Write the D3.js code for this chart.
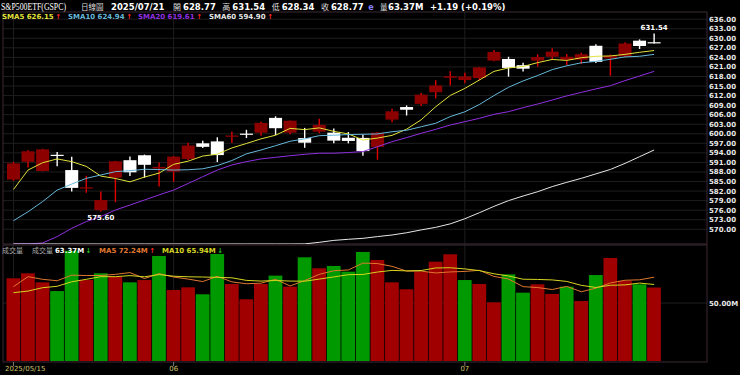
<!DOCTYPE html>
<html>
  <head>
    <meta charset="UTF-8" />
    <title>S&amp;P500ETF(GSPC) 日線圖</title>
    <style>
      body { margin: 0; background: #000; }
      svg { display: block; }
    </style>
  </head>
  <body>
    <svg width="740" height="375"></svg>

    <script src="https://d3js.org/d3.v7.min.js"></script>
    <script>
      // daily bars, 2025/05/15 - 2025/07/21
      const dates = [
        "2025/05/15","2025/05/16","2025/05/19","2025/05/20","2025/05/21","2025/05/22","2025/05/23","2025/05/27","2025/05/28","2025/05/29","2025/05/30",
        "2025/06/02","2025/06/03","2025/06/04","2025/06/05","2025/06/06","2025/06/09","2025/06/10","2025/06/11","2025/06/12","2025/06/13","2025/06/16","2025/06/17","2025/06/18","2025/06/20","2025/06/23","2025/06/24","2025/06/25","2025/06/26","2025/06/27","2025/06/30",
        "2025/07/01","2025/07/02","2025/07/03","2025/07/07","2025/07/08","2025/07/09","2025/07/10","2025/07/11","2025/07/14","2025/07/15","2025/07/16","2025/07/17","2025/07/18","2025/07/21"
      ];
      const opens = [
        585.6,591.2,588.3,593.4,588.6,582.8,576.0,586.2,591.7,593.25,589.1,
        588.1,592.1,597.0,597.6,599.05,600.05,600.35,605.0,600.35,598.65,600.65,600.35,598.75,598.7,595.9,604.45,608.4,609.4,613.05,617.6,
        616.9,617.5,623.0,623.5,621.55,623.0,624.2,623.2,623.3,627.65,623.7,624.3,629.25,628.77
      ];
      const highs = [
        591.2,594.8,595.3,594.3,592.8,586.8,581.9,591.5,592.85,593.45,591.0,
        593.0,597.2,597.8,598.9,600.75,601.25,603.8,605.5,604.2,601.85,604.7,601.65,600.55,599.8,600.55,607.9,608.9,612.8,616.8,619.65,
        619.15,620.95,626.3,624.2,622.3,625.0,626.85,625.1,625.5,628.15,624.9,628.75,629.65,631.54
      ];
      const lows = [
        585.2,589.4,588.2,589.8,581.9,581.5,575.6,578.5,586.75,586.2,583.4,
        584.95,591.8,595.5,591.1,597.1,598.65,599.35,599.6,599.85,595.6,600.15,597.0,597.0,593.1,591.85,603.65,605.75,608.7,611.1,615.2,
        615.9,616.8,622.8,617.95,619.55,621.05,623.2,621.6,621.9,622.2,618.25,624.1,626.65,628.34
      ];
      const closes = [
        590.7,594.5,595.1,593.1,583.0,583.2,579.2,591.35,587.9,590.25,589.6,
        592.8,596.3,595.9,593.3,599.45,599.95,603.4,601.75,604.1,597.2,602.8,597.85,597.75,594.55,600.35,607.05,607.55,612.3,615.2,618.1,
        618.0,620.85,625.7,620.7,620.45,624.1,625.8,624.2,625.0,622.6,624.5,628.35,627.58,628.77
      ];
      const prevClose = 587.59; // close of the day before the first bar
      // volume in millions
      const volumes = [
        71.3,75.6,67.8,60.3,95.1,69.8,75.6,72.7,67.8,69.8,90.5,
        61.2,63.5,57.5,92.2,66.4,53.2,66.4,73.6,64.1,89.4,79.9,81.9,77.0,94.0,87.1,67.8,61.8,77.0,85.6,92.0,
        69.8,66.4,50.6,74.7,58.9,66.1,57.8,64.1,51.7,74.1,88.8,69.2,66.1,63.37
      ];

      // moving averages as drawn on the chart
      const sma5 = [
        582.5,588.6,590.9,592.1,591.25,589.75,586.7,585.95,584.9,586.4,587.65,
        590.4,591.4,593.0,593.6,595.55,596.95,598.4,599.55,601.7,601.3,601.85,600.75,599.95,598.05,598.65,599.5,601.45,604.4,608.5,612.05,
        614.25,616.9,619.6,620.7,621.15,622.35,623.35,623.05,623.9,624.35,624.45,624.95,625.6,626.15
      ];
      const sma10 = [
        572.7,575.5,578.7,582.3,584.2,586.0,587.05,588.1,588.4,588.85,588.75,
        588.6,588.7,589.0,590.0,591.6,593.7,594.9,596.25,597.65,598.4,599.4,599.55,599.75,599.85,599.95,600.65,601.1,602.2,603.3,605.4,
        606.9,609.2,612.0,614.6,616.6,618.3,620.15,621.35,622.3,622.75,623.4,624.15,624.35,624.94
      ];
      const sma20 = [
        562.0,564.0,565.7,567.7,570.3,572.4,574.0,576.05,577.6,579.2,580.8,
        582.3,584.4,586.5,588.6,590.2,591.25,592.1,592.6,593.1,593.55,593.9,593.9,594.1,594.4,595.95,597.5,598.8,600.15,601.4,602.75,
        603.8,604.85,606.1,606.95,608.2,609.35,610.6,611.9,613.0,614.1,615.1,616.7,618.15,619.61
      ];
      const sma60 = [
        561.0,561.2,561.4,561.6,561.8,562.0,562.2,562.4,562.6,562.8,563.0,
        563.2,563.4,563.6,563.9,564.2,564.5,564.8,565.0,565.2,565.4,565.9,566.5,566.85,567.15,567.7,568.2,568.9,569.8,570.6,571.7,
        573.3,575.2,577.2,579.0,580.45,581.8,583.4,584.75,586.0,587.4,588.8,590.7,592.8,594.9
      ];
      const volMa5 = [
        64.1,72.7,70.4,69.2,74.0,73.7,73.7,74.7,76.2,71.1,75.3,
        72.4,70.6,68.5,73.0,68.2,66.6,67.1,70.4,64.7,69.3,74.7,77.8,78.5,84.4,84.0,81.6,77.5,77.5,75.9,76.8,
        77.2,78.2,72.9,70.7,64.1,63.3,61.6,64.3,59.7,62.8,67.3,69.6,70.0,72.24
      ];
      const volMa10 = [
        58.9,60.3,63.2,64.4,68.3,70.4,72.7,72.7,73.6,72.6,74.5,
        73.1,72.6,72.4,72.1,71.7,69.5,68.9,69.4,68.9,68.8,70.6,72.5,74.4,74.6,76.7,78.1,77.7,78.0,80.2,80.4,
        79.4,77.9,75.2,73.3,70.5,70.3,69.9,68.6,65.2,63.4,65.3,65.6,67.2,65.94
      ];

      const priceTicks = [570,573,576,579,582,585,588,591,594,597,600,603,606,609,612,615,618,621,624,627,630,633,636];
      const volTicks = [50];
      const monthTickDates = ["2025/05/15", "2025/06/02", "2025/07/01"];
      const monthTickLabels = ["2025/05/15", "06", "07"];

      const fontMain = "'DejaVu Sans', Verdana, sans-serif";
      const fontCjk = "'Noto Sans CJK TC', 'Noto Sans CJK SC', sans-serif";
      const fontSerif = "'Liberation Serif', 'DejaVu Serif', serif";

      const left = 3, right = 707;
      const priceTop = 12, priceBottom = 244;
      const volTop = 245, volBottom = 362;

      const upBody = "#8c0000", upWick = "#e00000", downColor = "#ffffff";
      const volUp = "#a00000", volDown = "#009a00";
      const colSma5 = "#e2e23a", colSma10 = "#66b8da", colSma20 = "#9030e0", colSma60 = "#e6e6e6";
      const colVma5 = "#e07830", colVma10 = "#d6d620";
      const arrowUp = "#ff2a2a", arrowDown = "#20c020";

      let svg = d3.select("svg");
      svg.append("rect").attr("width", 740).attr("height", 375).attr("fill", "#000");

      let x = d3.scaleBand().domain(dates).range([6.2, 661.4]).padding(0);
      let cx = (i) => x(dates[i]) + x.bandwidth() / 2;
      let y = d3.scaleLinear().domain([565.37, 638.26]).range([priceBottom, priceTop]).clamp(true);
      let yv = d3.scaleLinear().domain([0, 100]).range([361, volTop]);
      let idx = d3.range(dates.length);
      let last = dates.length - 1;
      let f2 = d3.format(".2f");

      function addText(g, o) {
        let t = g.append("text")
          .attr("x", o.x)
          .attr("y", o.y)
          .attr("fill", o.fill || "#fff")
          .attr("text-anchor", o.anchor || "start")
          .style("font-family", o.family || fontMain)
          .style("font-size", (o.size || 7) + "px")
          .style("font-weight", o.weight || "bold")
          .text(o.text);
        if (o.len) t.attr("textLength", o.len).attr("lengthAdjust", "spacingAndGlyphs");
        return t;
      }
      function width(t) {
        return t.node().getComputedTextLength();
      }

      // clip paths for the two panes
      let defs = svg.append("defs");
      defs.append("clipPath").attr("id", "clipPrice").append("rect")
        .attr("x", left).attr("y", priceTop).attr("width", right - left).attr("height", priceBottom - priceTop);
      defs.append("clipPath").attr("id", "clipVol").append("rect")
        .attr("x", left).attr("y", volTop).attr("width", right - left).attr("height", volBottom - volTop);

      // grid
      let grid = svg.append("g").attr("id", "grid");
      grid.selectAll(".hp").data(priceTicks).enter().append("line")
        .attr("x1", left).attr("x2", right)
        .attr("y1", (d) => y(d)).attr("y2", (d) => y(d))
        .attr("stroke", "#1e1e1e");
      grid.selectAll(".hv").data(volTicks).enter().append("line")
        .attr("x1", left).attr("x2", right)
        .attr("y1", (d) => yv(d)).attr("y2", (d) => yv(d))
        .attr("stroke", "#1e1e1e");
      grid.selectAll(".vm").data(monthTickDates).enter().append("line")
        .attr("x1", (d) => cx(dates.indexOf(d))).attr("x2", (d) => cx(dates.indexOf(d)))
        .attr("y1", priceTop).attr("y2", volBottom)
        .attr("stroke", "#1e1e1e");

      // pane frames
      svg.append("rect").attr("x", left).attr("y", priceTop)
        .attr("width", right - left).attr("height", priceBottom - priceTop)
        .attr("fill", "none").attr("stroke", "#3a2a32");
      svg.append("rect").attr("x", left).attr("y", volTop)
        .attr("width", right - left).attr("height", volBottom - volTop)
        .attr("fill", "none").attr("stroke", "#3a2a32");

      // candles
      let candles = svg.append("g").attr("id", "candles").attr("clip-path", "url(#clipPrice)");
      let isUp = (i) => closes[i] > opens[i];
      candles.selectAll("line").data(idx).enter().append("line")
        .attr("x1", (i) => cx(i)).attr("x2", (i) => cx(i))
        .attr("y1", (i) => y(highs[i])).attr("y2", (i) => y(lows[i]))
        .attr("stroke", (i) => (isUp(i) ? upWick : downColor))
        .attr("stroke-width", 1.4);
      candles.selectAll("rect").data(idx).enter().append("rect")
        .attr("x", (i) => cx(i) - 6.5)
        .attr("width", 13)
        .attr("y", (i) => y(Math.max(opens[i], closes[i])))
        .attr("height", (i) => Math.max(1.2, Math.abs(y(opens[i]) - y(closes[i]))))
        .attr("fill", (i) => (isUp(i) ? upBody : downColor));

      // moving average lines
      let lineFor = (scale) => d3.line().x((d, i) => cx(i)).y((d) => scale(d));
      let maLines = svg.append("g").attr("clip-path", "url(#clipPrice)");
      [[sma5, colSma5], [sma10, colSma10], [sma20, colSma20], [sma60, colSma60]].forEach(([vals, col]) => {
        maLines.append("path").attr("d", lineFor(y)(vals))
          .attr("fill", "none").attr("stroke", col).attr("stroke-width", 1);
      });

      // volume bars
      let volUpDay = (i) => closes[i] >= (i === 0 ? prevClose : closes[i - 1]);
      svg.append("g").attr("clip-path", "url(#clipVol)")
        .selectAll("rect").data(idx).enter().append("rect")
        .attr("x", (i) => x(dates[i]) + 0.3)
        .attr("width", x.bandwidth() - 0.8)
        .attr("y", (i) => yv(volumes[i]))
        .attr("height", (i) => 361 - yv(volumes[i]))
        .attr("fill", (i) => (volUpDay(i) ? volUp : volDown));
      let volLines = svg.append("g").attr("clip-path", "url(#clipVol)");
      [[volMa5, colVma5], [volMa10, colVma10]].forEach(([vals, col]) => {
        volLines.append("path").attr("d", lineFor(yv)(vals))
          .attr("fill", "none").attr("stroke", col).attr("stroke-width", 1);
      });

      // high / low markers
      let hiI = d3.maxIndex(highs), loI = d3.minIndex(lows);
      addText(svg, { x: cx(hiI), y: y(highs[hiI]) - 3, text: f2(highs[hiI]), anchor: "middle", size: 7 });
      addText(svg, { x: cx(loI), y: y(lows[loI]) + 9, text: f2(lows[loI]), anchor: "middle", size: 7 });

      // right axis labels
      priceTicks.forEach((d) => {
        addText(svg, { x: 709, y: Math.max(y(d), 16) + 2.5, text: f2(d), fill: "#e8e8e8", size: 7 });
      });
      volTicks.forEach((d) => {
        addText(svg, { x: 709, y: yv(d) + 2.5, text: f2(d) + "M", fill: "#e8e8e8", size: 7 });
      });

      // date axis
      monthTickDates.forEach((d, k) => {
        let px = cx(dates.indexOf(d));
        svg.append("line").attr("x1", px).attr("x2", px)
          .attr("y1", volBottom).attr("y2", volBottom + 4).attr("stroke", "#777");
        let t = addText(svg, { x: px, y: 371, text: monthTickLabels[k], fill: "#cfc46a", size: 7, weight: "normal" });
        t.attr("x", Math.max(5, px - width(t) / 2));
      });

      // header line
      let head = svg.append("g");
      addText(head, { x: 1, y: 10, text: "S&P500ETF(GSPC)", family: fontSerif, size: 9.5, weight: "normal", len: 65 });
      addText(head, { x: 81, y: 10, text: "日線圖", family: fontCjk, size: 7.5, weight: "normal", fill: "#dddddd" });
      addText(head, { x: 111, y: 10, text: dates[last], size: 8.5 });
      let cursor = 173;
      [["開", opens[last]], ["高", highs[last]], ["低", lows[last]], ["收", closes[last]]].forEach(([k, v]) => {
        let a = addText(head, { x: cursor, y: 10, text: k, family: fontCjk, size: 8, weight: "normal", fill: "#dddddd" });
        cursor += width(a) + 2;
        let b = addText(head, { x: cursor, y: 10, text: f2(v), size: 8.5 });
        cursor += width(b) + 6.5;
      });
      addText(head, { x: cursor - 2, y: 10, text: "e", size: 8, fill: "#8585ff" });
      addText(head, { x: 380, y: 10, text: "量", family: fontCjk, size: 7.5, weight: "normal", fill: "#dddddd" });
      addText(head, { x: 388, y: 10, text: f2(volumes[last]) + "M", size: 8.5 });
      let chg = closes[last] - closes[last - 1];
      let pct = (chg / closes[last - 1]) * 100;
      addText(head, { x: 430, y: 10, text: "+" + f2(chg) + " (+" + f2(pct) + "%)", size: 8.5 });

      // legends with up / down arrows
      function legendItem(xp, yp, txt, col, now, before) {
        let t = addText(svg, { x: xp, y: yp, text: txt, fill: col, size: 7 });
        addText(svg, {
          x: xp + width(t) + 1.5, y: yp,
          text: now >= before ? "↑" : "↓",
          fill: now >= before ? arrowUp : arrowDown, size: 7
        });
      }
      legendItem(2, 19, "SMA5 " + f2(sma5[last]), colSma5, sma5[last], sma5[last - 1]);
      legendItem(68, 19, "SMA10 " + f2(sma10[last]), colSma10, sma10[last], sma10[last - 1]);
      legendItem(138, 19, "SMA20 " + f2(sma20[last]), colSma20, sma20[last], sma20[last - 1]);
      legendItem(209, 19, "SMA60 " + f2(sma60[last]), colSma60, sma60[last], sma60[last - 1]);

      addText(svg, { x: 2, y: 252.5, text: "成交量", family: fontCjk, size: 7, weight: "normal", fill: "#aaaaaa" });
      let vt = addText(svg, { x: 32, y: 252.5, text: "成交量", family: fontCjk, size: 7, weight: "normal", fill: "#aaaaaa" });
      legendItem(32 + width(vt) + 2, 252.5, f2(volumes[last]) + "M", "#ffffff", volumes[last], volumes[last - 1]);
      legendItem(99, 252.5, "MA5 " + f2(volMa5[last]) + "M", colVma5, volMa5[last], volMa5[last - 1]);
      legendItem(162, 252.5, "MA10 " + f2(volMa10[last]) + "M", colVma10, volMa10[last], volMa10[last - 1]);
    </script>
  </body>
</html>
